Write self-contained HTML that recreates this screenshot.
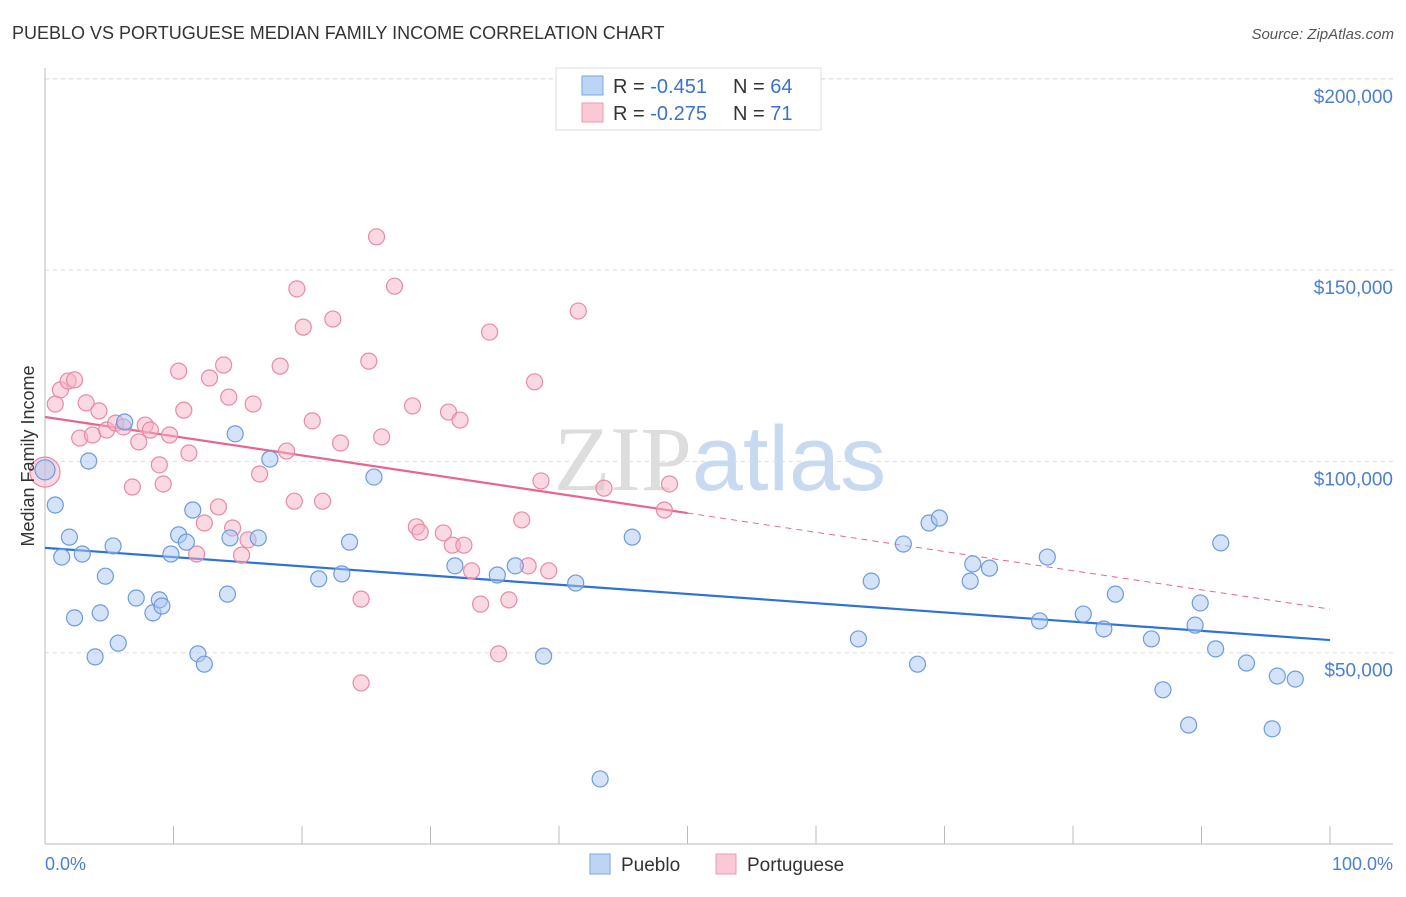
<!DOCTYPE html>
<html><head><meta charset="utf-8">
<style>
body{margin:0;background:#fff;font-family:"Liberation Sans",sans-serif;}
svg text{font-family:"Liberation Sans",sans-serif;}
</style></head>
<body>
<svg id="chart" width="1406" height="892" xmlns="http://www.w3.org/2000/svg">
<text x="12" y="39" font-size="18" fill="#333">PUEBLO VS PORTUGUESE MEDIAN FAMILY INCOME CORRELATION CHART</text>
<text x="1394" y="39" font-size="15" fill="#555" text-anchor="end" font-style="italic">Source: ZipAtlas.com</text>
<text x="720" y="490" font-size="92" text-anchor="middle"><tspan fill="#ddd" font-family="Liberation Serif">ZIP</tspan><tspan fill="#c8daf0">atlas</tspan></text>
<g id="grid"></g>
<g id="axes"></g>
<g id="trends"></g>
<g id="points"></g>
<text transform="translate(34,456) rotate(-90)" font-size="18" fill="#333" text-anchor="middle">Median Family Income</text>
<text x="45" y="870" font-size="18" fill="#4a7fd4">0.0%</text>
<text x="1393" y="870" font-size="18" fill="#4a7fd4" text-anchor="end">100.0%</text>
<g>
<rect x="556" y="68" width="265" height="62" fill="#fff" stroke="#ddd"/>
<rect x="582" y="76" width="21" height="19" fill="#bcd5f5" stroke="#7aa6e0"/>
<rect x="582" y="103" width="21" height="19" fill="#fbc8d6" stroke="#ec9ab0"/>
<text x="613" y="93" font-size="20" fill="#333">R = <tspan fill="#3a72d0">-0.451</tspan><tspan x="733">N = </tspan><tspan fill="#3a72d0">64</tspan></text>
<text x="613" y="120" font-size="20" fill="#333">R = <tspan fill="#3a72d0">-0.275</tspan><tspan x="733">N = </tspan><tspan fill="#3a72d0"> 71</tspan></text>
</g>
<g>
<rect x="590" y="854" width="20" height="20" fill="#bcd5f5" stroke="#7aa6e0"/>
<text x="621" y="871" font-size="19" fill="#333">Pueblo</text>
<rect x="716" y="854" width="20" height="20" fill="#fbc8d6" stroke="#ec9ab0"/>
<text x="747" y="871" font-size="19" fill="#333">Portuguese</text>
</g>
</svg>
<script>
const yTicks=[50000,100000,150000,200000];
const yTickLabels=["$50,000","$100,000","$150,000","$200,000"];
const xTicks=[0,10,20,30,40,50,60,70,80,90,100];
const puebloX=[0,0.8,1.3,1.9,2.3,2.9,3.4,3.9,4.3,4.7,5.3,5.7,6.2,7.1,8.4,8.9,9.1,9.8,10.4,11.0,11.5,11.9,12.4,14.2,14.4,14.8,16.6,17.5,21.3,23.1,23.7,25.6,31.9,35.2,36.6,38.8,41.3,43.2,45.7,63.3,64.3,66.8,67.9,68.8,69.6,72.0,72.2,73.5,77.4,78.0,80.8,82.4,83.3,86.1,87.0,89.0,89.5,89.9,91.1,91.5,93.5,95.9,95.5,97.3];
const puebloY=[97.8,88.6,75.0,80.2,59.1,75.8,100.1,48.9,60.4,70.0,77.9,52.5,110.3,64.3,60.4,63.8,62.2,75.8,80.8,78.9,87.3,49.7,47.0,65.3,80.0,107.2,80.0,100.6,69.3,70.6,78.9,95.9,72.7,70.3,72.7,49.1,68.2,17.0,80.2,53.6,68.7,78.4,47.0,83.9,85.2,68.7,73.2,72.1,58.3,75.0,60.1,56.2,65.3,53.6,40.3,31.1,57.2,63.0,51.0,78.7,47.3,43.9,30.1,43.1];
const portX=[0,0.8,1.2,1.8,2.3,2.7,3.2,3.7,4.2,4.8,5.5,6.1,6.8,7.3,7.8,8.2,8.9,9.2,9.7,10.4,10.8,11.2,11.8,12.4,12.8,13.5,13.9,14.3,14.6,15.3,15.8,16.2,16.7,18.3,18.8,19.4,19.6,20.1,20.8,21.6,22.4,23.0,24.6,24.6,25.2,25.8,26.2,27.2,28.6,28.9,29.2,31.0,31.4,31.7,32.3,32.6,33.2,33.9,34.6,35.3,36.1,37.1,37.6,38.1,38.6,39.2,41.5,43.5,48.2,48.6];
const portY=[97.2,115.0,118.7,121.0,121.3,106.1,115.3,106.9,113.2,108.2,110.0,109.0,93.3,105.1,109.5,108.2,99.1,94.1,106.9,123.6,113.4,102.2,75.8,83.9,121.8,88.1,125.2,116.8,82.6,75.5,79.5,115.0,96.7,124.9,102.7,89.6,145.1,135.1,110.6,89.6,137.2,104.8,64.0,42.1,126.2,158.7,106.4,145.8,114.5,82.9,81.5,81.3,112.9,78.1,110.8,78.1,71.4,62.7,133.8,49.7,63.8,84.7,72.7,120.8,94.9,71.4,139.3,93.0,87.3,94.1];
const puebloTrend=[77.4,53.3];
const portTrend=[111.6,61.4];
const portSolidEnd=50;
const NS="http://www.w3.org/2000/svg";
const xs=v=>45+v*12.85;
const ys=v=>844-v/1000*3.826;
function mk(tag,attrs,parent){const e=document.createElementNS(NS,tag);for(const k in attrs)e.setAttribute(k,attrs[k]);document.getElementById(parent).appendChild(e);return e;}
yTicks.forEach((t,i)=>{
 const g=mk('line',{x1:45,x2:1393,y1:ys(t),y2:ys(t),stroke:'#ddd','stroke-dasharray':'4,4'},'grid');
 
 
 const l=mk('text',{x:1393,y:ys(t)+24,'font-size':19,fill:'#4a7fd4','text-anchor':'end'},'axes');
 l.textContent=yTickLabels[i];
 
 
});
const topGrid=mk('line',{x1:45,x2:1393,y1:79,y2:79,stroke:'#ddd','stroke-dasharray':'4,4'},'grid');


const ax=mk('line',{x1:45,x2:1393,y1:844,y2:844,stroke:'#bbb'},'axes');


const ay=mk('line',{x1:45,x2:45,y1:68,y2:844,stroke:'#bbb'},'axes');


xTicks.forEach(t=>{
 const e=mk('line',{x1:xs(t),x2:xs(t),y1:826,y2:844,stroke:'#bbb'},'axes');
 
 
});
function dot(x,y,fill,stroke,name,r){
 const c=mk('circle',{cx:xs(x),cy:ys(y*1000),r:r||8,fill:fill,'fill-opacity':0.5,stroke:stroke,'stroke-width':1.2},'points');
 
 
}
portX.forEach((x,i)=>dot(x,portY[i],'#f7b3c6','#e88aa5','portuguese-point',i===0?15:8));
puebloX.forEach((x,i)=>dot(x,puebloY[i],'#a9c7f0','#6c9be0','pueblo-point',i===0?10:8));
const pt=v=>portTrend[0]+(portTrend[1]-portTrend[0])*v/100;
const l1=mk('line',{x1:xs(0),y1:ys(puebloTrend[0]*1000),x2:xs(100),y2:ys(puebloTrend[1]*1000),stroke:'#2f72d6','stroke-width':2.2},'trends');


const l2=mk('line',{x1:xs(0),y1:ys(pt(0)*1000),x2:xs(portSolidEnd),y2:ys(pt(portSolidEnd)*1000),stroke:'#e8658f','stroke-width':2.2},'trends');


const l3=mk('line',{x1:xs(portSolidEnd),y1:ys(pt(portSolidEnd)*1000),x2:xs(100),y2:ys(pt(100)*1000),stroke:'#e8658f','stroke-width':1,'stroke-dasharray':'6,5'},'trends');


</script>
</body></html>
